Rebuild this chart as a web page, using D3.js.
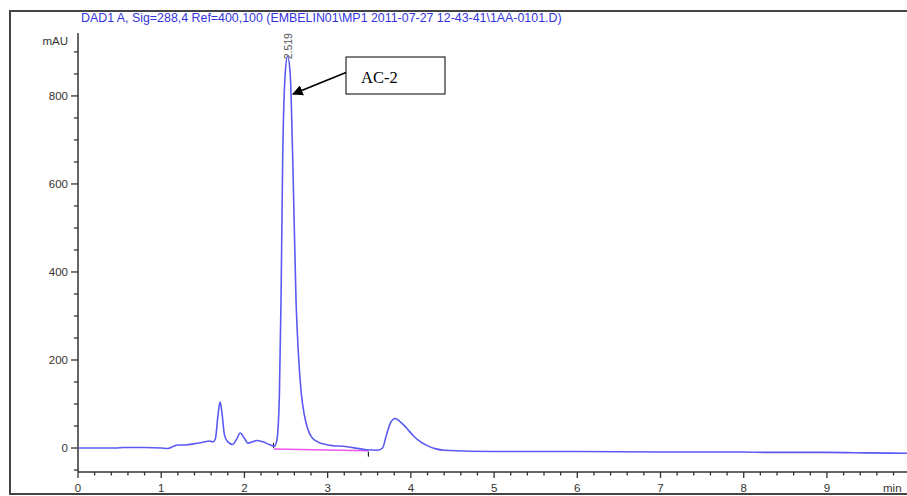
<!DOCTYPE html>
<html>
<head>
<meta charset="utf-8">
<script src="https://cdn.jsdelivr.net/npm/d3@7"></script>
<style>
  body { margin: 0; background: #fff; }
  svg { display: block; }
  .sans { font-family: "Liberation Sans", Arial, sans-serif; }
  .serif { font-family: "Liberation Serif", "Times New Roman", serif; }
</style>
</head>
<body>
<div id="chart"></div>
<script>
// retention time (min) and absorbance (mAU)
var times = [0, 0.3, 0.45, 0.55, 0.8, 1.0, 1.08, 1.15, 1.2, 1.3, 1.4, 1.5, 1.58, 1.62, 1.65, 1.68, 1.707, 1.73, 1.76, 1.8,
  1.86, 1.9, 1.95, 2.0, 2.04, 2.1, 2.15, 2.22, 2.3, 2.36, 2.39, 2.42, 2.44, 2.46, 2.49, 2.519, 2.55, 2.58, 2.62, 2.65,
  2.68, 2.72, 2.76, 2.80, 2.86, 2.93, 3.0, 3.23, 3.47, 3.6, 3.66, 3.70, 3.75, 3.81, 3.87, 3.95, 4.03, 4.1, 4.19, 4.3,
  4.4, 5.0, 6.0, 7.0, 8.0, 8.3, 9.0, 9.5, 10];
var signal = [0, 0, 0, 1, 1, 0, -1, 4, 7, 7, 10, 13, 16, 14, 20, 70, 105, 80, 30, 14,
  8, 18, 34, 22, 11, 14, 17, 14, 8, 4, 18, 120, 340, 660, 850, 890, 850, 660, 336, 210,
  130, 75, 44, 27, 16, 10, 7, 3, -4, -5, 0, 25, 55, 67, 60, 45, 28, 16, 6, -2,
  -5, -8, -8, -9, -9, -10, -10, -11, -12];

// integration baseline of the main peak
var baseTimes = [2.35, 3.49];
var baseValues = [-2, -6];

var xTicks = [0, 1, 2, 3, 4, 5, 6, 7, 8, 9];
var yTicks = [0, 200, 400, 600, 800];

var titleText = "DAD1 A, Sig=288,4 Ref=400,100 (EMBELIN01\\MP1 2011-07-27 12-43-41\\1AA-0101.D)";
var peakLabel = "2.519";
var peakTime = 2.519;
var peakValue = 890;

var width = 907, height = 496;

var svg = d3.select('#chart').append('svg')
  .attr('width', width)
  .attr('height', height)
  .attr('class', 'sans');

// outer frame
svg.append('path')
  .attr('d', 'M907,11 H10 V494 H907')
  .attr('fill', 'none')
  .attr('stroke', '#444')
  .attr('stroke-width', 2);

var x = d3.scaleLinear().domain([0, 9.962]).range([78, 907]);
var y = d3.scaleLinear().domain([-54.5, 943]).range([472, 33]);

// x axis
var gx = svg.append('g').attr('transform', 'translate(0,472)');
gx.append('line').attr('x1', 78).attr('x2', 907).attr('stroke', '#333').attr('stroke-width', 1.5);
gx.selectAll('.minor').data(d3.range(0, 50).map(function(i){ return i * 0.2; }).filter(function(d){ return x(d) < 906; }))
  .enter().append('line')
  .attr('x1', function(d){ return x(d); })
  .attr('x2', function(d){ return x(d); })
  .attr('y1', 0)
  .attr('y2', function(d){ return Math.abs(d - Math.round(d)) < 1e-6 ? 6 : 3.5; })
  .attr('stroke', '#333').attr('stroke-width', 1.3);
gx.selectAll('.lbl').data(xTicks).enter().append('text')
  .attr('x', function(d){ return x(d); })
  .attr('y', 20)
  .attr('text-anchor', 'middle')
  .attr('font-size', 11.5)
  .attr('fill', '#333')
  .text(function(d){ return d; });
gx.append('text').attr('x', 883).attr('y', 20).attr('font-size', 11.5).attr('fill', '#333').text('min');

// y axis
var gy = svg.append('g').attr('transform', 'translate(78,0)');
gy.append('line').attr('y1', y(-54.5)).attr('y2', 33).attr('stroke', '#333').attr('stroke-width', 1.5);
gy.selectAll('.minor').data(d3.range(-50, 901, 50))
  .enter().append('line')
  .attr('y1', function(d){ return y(d); })
  .attr('y2', function(d){ return y(d); })
  .attr('x1', function(d){ return d % 200 === 0 ? -7 : -4; })
  .attr('x2', 0)
  .attr('stroke', '#333').attr('stroke-width', 1.3);
gy.selectAll('.lbl').data(yTicks).enter().append('text')
  .attr('x', -10)
  .attr('y', function(d){ return y(d) + 4; })
  .attr('text-anchor', 'end')
  .attr('font-size', 11.5)
  .attr('fill', '#333')
  .text(function(d){ return d; });
gy.append('text').attr('x', -10).attr('y', 45).attr('text-anchor', 'end')
  .attr('font-size', 11.5).attr('fill', '#333').text('mAU');

// title
svg.append('text')
  .attr('x', 81).attr('y', 22)
  .attr('font-size', 12.4)
  .attr('fill', '#3333dd')
  .text(titleText);

// integration baseline
svg.append('line')
  .attr('x1', x(baseTimes[0])).attr('y1', y(baseValues[0]))
  .attr('x2', x(baseTimes[1])).attr('y2', y(baseValues[1]))
  .attr('stroke', '#ee55ee').attr('stroke-width', 1.5);
svg.append('line')
  .attr('x1', x(baseTimes[0])).attr('x2', x(baseTimes[0]))
  .attr('y1', y(baseValues[0]) - 6).attr('y2', y(baseValues[0]) - 1)
  .attr('stroke', '#222').attr('stroke-width', 1.2);
svg.append('line')
  .attr('x1', x(baseTimes[1])).attr('x2', x(baseTimes[1]))
  .attr('y1', y(baseValues[1]) + 1).attr('y2', y(baseValues[1]) + 6)
  .attr('stroke', '#222').attr('stroke-width', 1.2);

// trace
var data = times.map(function(t, i){ return [t, signal[i]]; });
var line = d3.line()
  .x(function(d){ return x(d[0]); })
  .y(function(d){ return y(d[1]); })
  .curve(d3.curveMonotoneX);
svg.append('path')
  .datum(data)
  .attr('d', line)
  .attr('fill', 'none')
  .attr('stroke', '#5a5af2')
  .attr('stroke-width', 1.6);

// peak label
svg.append('text')
  .attr('transform', 'translate(' + (x(peakTime) + 4) + ',' + (y(peakValue) + 3) + ') rotate(-90)')
  .attr('font-size', 10.5)
  .attr('fill', '#555')
  .text(peakLabel);

// annotation box with arrow
svg.append('defs').append('marker')
  .attr('id', 'arrow')
  .attr('viewBox', '0 0 10 10')
  .attr('refX', 9).attr('refY', 5)
  .attr('markerWidth', 6).attr('markerHeight', 6)
  .attr('orient', 'auto')
  .append('path').attr('d', 'M0,0 L10,5 L0,10 z').attr('fill', '#000');
svg.append('rect')
  .attr('x', 346).attr('y', 57).attr('width', 99).attr('height', 37)
  .attr('fill', '#fff').attr('stroke', '#000').attr('stroke-width', 1);
svg.append('text')
  .attr('class', 'serif')
  .attr('x', 361).attr('y', 83)
  .attr('font-size', 16.5)
  .attr('fill', '#000')
  .text('AC-2');
svg.append('line')
  .attr('x1', 346).attr('y1', 72.5)
  .attr('x2', 293).attr('y2', 94)
  .attr('stroke', '#000').attr('stroke-width', 1.8)
  .attr('marker-end', 'url(#arrow)');
</script>
</body>
</html>
